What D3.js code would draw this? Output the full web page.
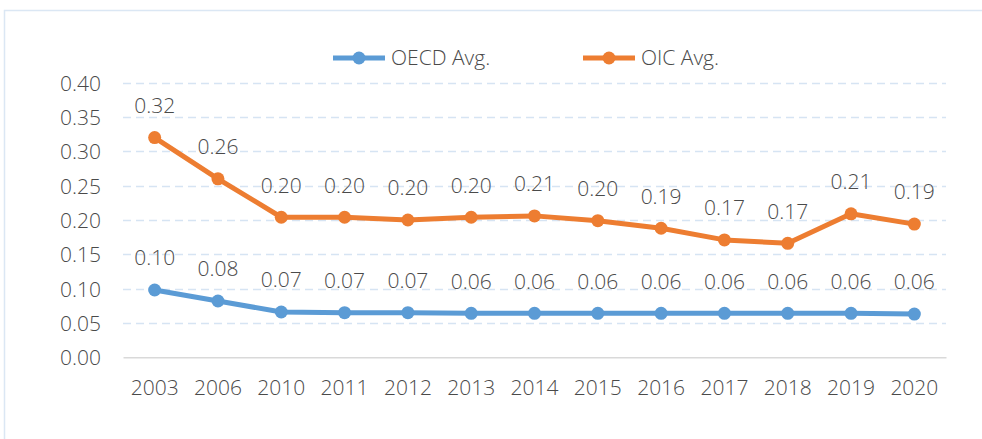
<!DOCTYPE html>
<html>
<head>
<meta charset="utf-8">
<script src="https://cdn.jsdelivr.net/npm/d3@7"></script>
<style>
  html, body { margin: 0; padding: 0; background: #ffffff; }
  svg { display: block; }
  text { font-family: "Open Sans", "Liberation Sans", sans-serif; font-weight: 300; fill: #4a4a4a; }
</style>
</head>
<body>
<svg id="chart" width="982" height="439"></svg>
<script>
// Years on the category axis
const years = ["2003", "2006", "2010", "2011", "2012", "2013", "2014", "2015", "2016", "2017", "2018", "2019", "2020"];
// Average values per series
const oecdAvg = [0.098, 0.082, 0.066, 0.065, 0.065, 0.064, 0.064, 0.064, 0.064, 0.064, 0.064, 0.064, 0.063];
const oicAvg  = [0.320, 0.260, 0.204, 0.204, 0.200, 0.204, 0.206, 0.199, 0.188, 0.171, 0.166, 0.209, 0.194];
const seriesNames = ["OECD Avg.", "OIC Avg."];
const seriesColors = ["#5b9bd5", "#ed7d31"];
const yTicks = [0.00, 0.05, 0.10, 0.15, 0.20, 0.25, 0.30, 0.35, 0.40];

const svg = d3.select("#chart");
const W = 982, H = 439;
const textColor = "#4a4a4a";

// Outer chart frame
svg.append("rect")
  .attr("x", 4.5).attr("y", 10.5)
  .attr("width", W + 20).attr("height", H + 20)
  .attr("fill", "#ffffff")
  .attr("stroke", "#dbe7f4").attr("stroke-width", 1.5);

const plot = { left: 123, right: 946, top: 82.7, bottom: 357.3 };

const x = d3.scaleBand().domain(years).range([plot.left, plot.right]);
const y = d3.scaleLinear().domain([0, 0.40]).range([plot.bottom, plot.top]);
const cx = d => x(d) + x.bandwidth() / 2;

// Horizontal gridlines (dashed), skipping the baseline
svg.append("g")
  .selectAll("line")
  .data(yTicks.filter(t => t > 0))
  .join("line")
  .attr("x1", plot.left).attr("x2", plot.right)
  .attr("y1", d => Math.round(y(d)) + 0.5).attr("y2", d => Math.round(y(d)) + 0.5)
  .attr("stroke", "#d6e4f3").attr("stroke-width", 1.5)
  .attr("stroke-dasharray", "8,5");

// Y axis labels
const yAxis = d3.axisLeft(y).tickValues(yTicks).tickFormat(d3.format(".2f")).tickSize(0).tickPadding(22);
const gy = svg.append("g").attr("transform", `translate(${plot.left},0)`).call(yAxis);
gy.select(".domain").remove();
gy.selectAll("text").attr("font-size", 21).attr("fill", textColor).attr("font-family", null).attr("dy", "0.35em");

// X axis baseline and labels
const xAxis = d3.axisBottom(x).tickSize(0).tickPadding(23);
const gx = svg.append("g").attr("transform", `translate(0,${plot.bottom})`).call(xAxis);
gx.select(".domain").attr("stroke", "#d9d9d9").attr("stroke-width", 1.5);
gx.selectAll("text").attr("font-size", 21).attr("fill", textColor).attr("font-family", null);

const series = [oecdAvg, oicAvg];
const line = d3.line().x((d, i) => cx(years[i])).y(d => y(d));

series.forEach((vals, s) => {
  const g = svg.append("g");
  g.append("path")
    .datum(vals)
    .attr("d", line)
    .attr("fill", "none")
    .attr("stroke", seriesColors[s])
    .attr("stroke-width", 5)
    .attr("stroke-linejoin", "round");
  g.selectAll("circle")
    .data(vals)
    .join("circle")
    .attr("cx", (d, i) => cx(years[i]))
    .attr("cy", d => y(d))
    .attr("r", 6.5)
    .attr("fill", seriesColors[s]);
  g.selectAll("text")
    .data(vals)
    .join("text")
    .attr("x", (d, i) => cx(years[i]))
    .attr("y", d => y(d) - 32)
    .attr("dy", "0.35em")
    .attr("text-anchor", "middle")
    .attr("font-size", 21)
    .text(d => d3.format(".2f")(d));
});

// Legend
const legendX = [333, 583];
const legendY = 58;
seriesNames.forEach((name, s) => {
  const g = svg.append("g").attr("transform", `translate(${legendX[s]},${legendY})`);
  g.append("line").attr("x1", 0).attr("x2", 52).attr("y1", 0).attr("y2", 0)
    .attr("stroke", seriesColors[s]).attr("stroke-width", 5);
  g.append("circle").attr("cx", 26).attr("cy", 0).attr("r", 6.5).attr("fill", seriesColors[s]);
  g.append("text").attr("x", 58).attr("y", 0).attr("dy", "0.35em")
    .attr("font-size", 21).text(name);
});
</script>
</body>
</html>
